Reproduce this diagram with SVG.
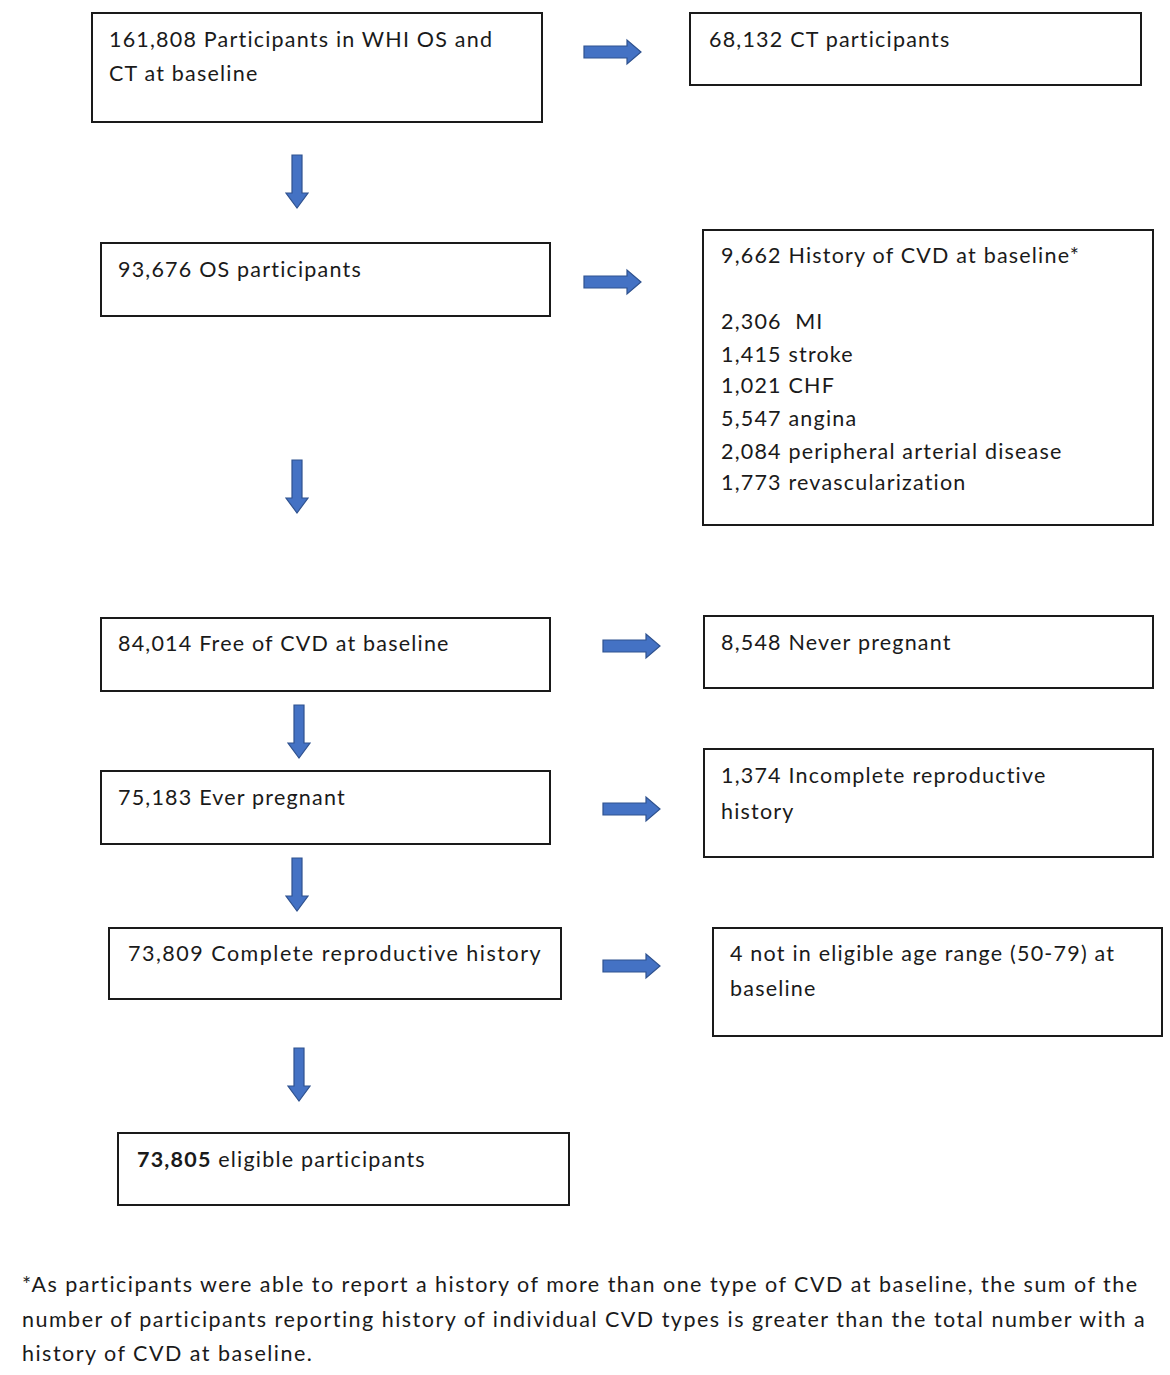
<svg xmlns="http://www.w3.org/2000/svg" xmlns:xlink="http://www.w3.org/1999/xlink" width="1170" height="1375" viewBox="0 0 1170 1375">
<style>
.box{fill:#fff;stroke:#1a1a1a;stroke-width:2}
.t{font-family:Lato,"Open Sans","Liberation Sans",sans-serif;font-size:21.5px;letter-spacing:1.2px;fill:#1a1a1a}
.f{font-family:Lato,"Open Sans","Liberation Sans",sans-serif;font-size:21.5px;letter-spacing:1.48px;fill:#1a1a1a}
.arr{fill:#4472C4;stroke:#2F528F;stroke-width:1.2}
</style>
<defs>
<path id="ha" class="arr" d="M0,-6 L43,-6 L43,-12 L57,0 L43,12 L43,6 L0,6 Z"/>
<path id="va" class="arr" d="M-5,0 L5,0 L5,38 L11,38 L0,53 L-11,38 L-5,38 Z"/>
</defs>
<rect width="1170" height="1375" fill="#fff"/>
<g id="connectors">
<use xlink:href="#ha" x="584" y="52"/>
<use xlink:href="#ha" x="584" y="282"/>
<use xlink:href="#ha" x="603" y="646"/>
<use xlink:href="#ha" x="603" y="809"/>
<use xlink:href="#ha" x="603" y="966"/>
<use xlink:href="#va" x="297" y="155"/>
<use xlink:href="#va" x="297" y="460"/>
<use xlink:href="#va" x="299" y="705"/>
<use xlink:href="#va" x="297" y="858"/>
<use xlink:href="#va" x="299" y="1048"/>
</g>
<g id="n1"><rect class="box" x="92" y="13" width="450" height="109"/>
<text class="t" x="109" y="47">161,808 Participants in WHI OS and</text>
<text class="t" x="109" y="81">CT at baseline</text></g>
<g id="n2"><rect class="box" x="690" y="13" width="451" height="72"/>
<text class="t" x="709" y="47">68,132 CT participants</text></g>
<g id="n3"><rect class="box" x="101" y="243" width="449" height="73"/>
<text class="t" x="118" y="277">93,676 OS participants</text></g>
<g id="n4"><rect class="box" x="703" y="230" width="450" height="295"/>
<text class="t" x="721" y="263">9,662 History of CVD at baseline*</text>
<text class="t" x="721" y="329">2,306 &#160;MI</text>
<text class="t" x="721" y="362">1,415 stroke</text>
<text class="t" x="721" y="393">1,021 CHF</text>
<text class="t" x="721" y="426">5,547 angina</text>
<text class="t" x="721" y="459">2,084 peripheral arterial disease</text>
<text class="t" x="721" y="490">1,773 revascularization</text></g>
<g id="n5"><rect class="box" x="101" y="618" width="449" height="73"/>
<text class="t" x="118" y="651">84,014 Free of CVD at baseline</text></g>
<g id="n6"><rect class="box" x="704" y="616" width="449" height="72"/>
<text class="t" x="721" y="650">8,548 Never pregnant</text></g>
<g id="n7"><rect class="box" x="101" y="771" width="449" height="73"/>
<text class="t" x="118" y="805">75,183 Ever pregnant</text></g>
<g id="n8"><rect class="box" x="704" y="749" width="449" height="108"/>
<text class="t" x="721" y="783">1,374 Incomplete reproductive</text>
<text class="t" x="721" y="819">history</text></g>
<g id="n9"><rect class="box" x="109" y="928" width="452" height="71"/>
<text class="t" x="128" y="961" style="letter-spacing:1.5px">73,809 Complete reproductive history</text></g>
<g id="n10"><rect class="box" x="713" y="928" width="449" height="108"/>
<text class="t" x="730" y="961">4 not in eligible age range (50-79) at</text>
<text class="t" x="730" y="996">baseline</text></g>
<g id="n11"><rect class="box" x="118" y="1133" width="451" height="72"/>
<text class="t" x="137" y="1167"><tspan font-weight="bold">73,805</tspan> eligible participants</text></g>
<g id="footnote">
<text class="f" x="22" y="1292">*As participants were able to report a history of more than one type of CVD at baseline, the sum of the</text>
<text class="f" x="22" y="1327">number of participants reporting history of individual CVD types is greater than the total number with a</text>
<text class="f" x="22" y="1361">history of CVD at baseline.</text>
</g>
</svg>
